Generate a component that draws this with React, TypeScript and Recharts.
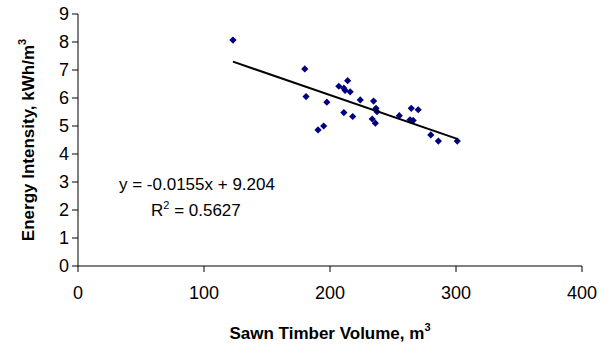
import React from "react"
import { ScatterChart, Scatter, XAxis, YAxis } from "recharts"

// readings
const volume = [
  123, 180, 181, 190.5, 195, 197.5, 207, 211, 214, 212, 216, 211, 218, 224,
  234.6, 236.5, 237.3, 233.5, 236, 255, 264.5, 270, 263.5, 266, 280, 286, 301,
]
const intensity = [
  8.07, 7.04, 6.05, 4.86, 5.0, 5.85, 6.42, 6.35, 6.62, 6.27, 6.22, 5.48, 5.34,
  5.93, 5.89, 5.63, 5.51, 5.25, 5.1, 5.37, 5.63, 5.58, 5.22, 5.2, 4.68, 4.46,
  4.46,
]
const xTicks = [0, 100, 200, 300, 400]
const yTicks = [0, 1, 2, 3, 4, 5, 6, 7, 8, 9]

// fitted trend (as printed on the chart)
const slope = -0.0155
const intercept = 9.204
const equationText = "y = -0.0155x + 9.204"
const rSquaredValue = "0.5627"

const points = volume.map((v, i) => ({ x: v, y: intensity[i] }))
const xMin = Math.min(...volume)
const xMax = Math.max(...volume)
const trend = [
  { x: xMin, y: slope * xMin + intercept },
  { x: xMax, y: slope * xMax + intercept },
]

const font = "'Liberation Sans', Arial, sans-serif"

function diamond(props: any) {
  const { cx, cy } = props
  const r = 3.6
  return (
    <polygon
      points={`${cx},${cy - r} ${cx + r},${cy} ${cx},${cy + r} ${cx - r},${cy}`}
      fill="#000080"
    />
  )
}

function XTitle(props: any) {
  const { viewBox } = props
  const cx = viewBox.x + viewBox.width / 2
  return (
    <text
      x={cx}
      y={viewBox.y + 73}
      textAnchor="middle"
      fontFamily={font}
      fontSize={17}
      fontWeight="bold"
      fill="#000"
    >
      Sawn Timber Volume, m
      <tspan dy={-8} fontSize={11}>3</tspan>
    </text>
  )
}

function YTitle() {
  return (
    <text
      transform="translate(34,140) rotate(-90)"
      textAnchor="middle"
      fontFamily={font}
      fontSize={17}
      fontWeight="bold"
      fill="#000"
    >
      Energy Intensity, kWh/m
      <tspan dy={-8} fontSize={11}>3</tspan>
    </text>
  )
}

export default function App() {
  return (
    <div
      style={{
        position: "fixed",
        left: 0,
        top: 0,
        width: 611,
        height: 352,
        background: "#fff",
        fontFamily: font,
      }}
    >
      <ScatterChart
        width={611}
        height={352}
        margin={{ top: 14, right: 29, bottom: 0, left: 0 }}
      >
        <XAxis
          type="number"
          dataKey="x"
          domain={[0, 400]}
          ticks={xTicks}
          height={86}
          stroke="#000"
          tickSize={6}
          tickMargin={14}
          tick={{ fill: "#000", fontSize: 18, fontFamily: font }}
          label={<XTitle />}
        />
        <YAxis
          type="number"
          dataKey="y"
          domain={[0, 9]}
          ticks={yTicks}
          width={78}
          stroke="#000"
          tickSize={6}
          tickMargin={3}
          tick={{ fill: "#000", fontSize: 18, fontFamily: font }}
          label={<YTitle />}
        />
        <Scatter
          data={points}
          shape={diamond}
          isAnimationActive={false}
        />
        <Scatter
          data={trend}
          line={{ stroke: "#000", strokeWidth: 2 }}
          shape={() => <g />}
          isAnimationActive={false}
        />
      </ScatterChart>
      <div
        style={{
          position: "absolute",
          left: 119,
          top: 174,
          fontSize: 17,
          lineHeight: "22px",
          color: "#000",
          whiteSpace: "nowrap",
        }}
      >
        {equationText}
      </div>
      <div
        style={{
          position: "absolute",
          left: 151,
          top: 200,
          fontSize: 17,
          lineHeight: "22px",
          color: "#000",
          whiteSpace: "nowrap",
        }}
      >
        R<sup style={{ fontSize: 11, verticalAlign: "7px", lineHeight: 0 }}>2</sup> = {rSquaredValue}
      </div>
    </div>
  )
}
